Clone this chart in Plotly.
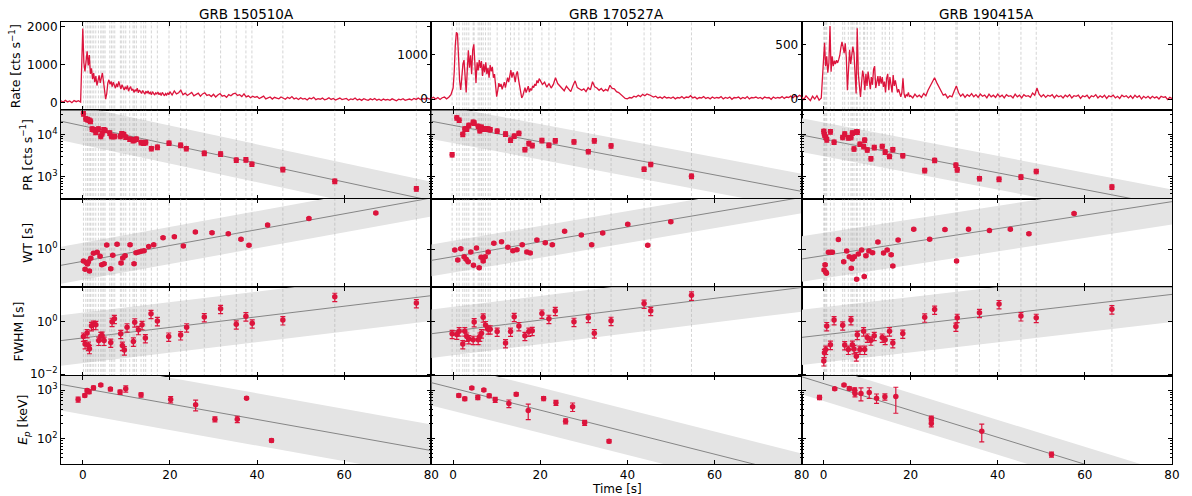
import numpy as np
import plotly.graph_objects as go
from plotly.subplots import make_subplots

# ============================ DATA ============================
GRB_NAMES = ["GRB 150510A", "GRB 170527A", "GRB 190415A"]

# ---- light curves (cts/s): pre-trigger bins (0.5 s from -5 s), early bins (0.25 s from 0 s), late bins (0.5 s from 20 s)
LC1_PRE = [50, 10, 60, 20, 45, 0, 55, 25, 50, 15]
LC1_EARLY = [1950, 1050, 820, 1180, 1350, 980, 1250, 760, 900, 620,
             780, 540, 700, 450, 610, 720, 520, 680, 780, 560,
             330, 90, 240, 520, 600, 480, 560, 420, 540, 460,
             380, 500, 410, 560, 440, 360, 470, 390, 330, 420,
             350, 450, 300, 380, 410, 320, 360, 270, 340, 300,
             380, 260, 330, 290, 240, 320, 280, 220, 300, 250,
             310, 230, 270, 210, 290, 240, 200, 260, 230, 280,
             210, 250, 190, 270, 220, 180, 240, 200, 260, 210]
LC1_LATE = [290, 200, 310, 230, 260, 330, 210, 250, 190, 240,
            270, 180, 220, 250, 170, 230, 260, 190, 210, 160,
            220, 150, 200, 240, 170, 190, 140, 210, 180, 230,
            250, 190, 210, 160, 230, 150, 180, 130, 170, 140,
            160, 110, 140, 170, 100, 130, 150, 95, 140, 120,
            100, 150, 120, 90, 140, 110, 160, 100, 125, 85,
            130, 95, 110, 70, 120, 100, 140, 80, 105, 90,
            120, 75, 95, 130, 85, 110, 70, 100, 120, 80,
            90, 110, 65, 100, 80, 120, 70, 95, 60, 105,
            80, 60, 100, 75, 110, 65, 90, 55, 95, 70,
            85, 60, 100, 70, 50, 90, 75, 105, 60, 80,
            95, 70, 110, 85, 120, 80, 105, 90, 125, 95,
            110]

LC2_PRE = [20, 45, 5, 40, -5, 35, 50, 10, 45, 100]
LC2_EARLY = [250, 600, 1200, 1490, 1450, 900, 400, 210, 500, 780,
             870, 430, 150, 650, 1090, 700, 980, 560, 1100, 1220,
             650, 360, 820, 640, 870, 700, 850, 520, 780, 600,
             820, 560, 700, 480, 760, 620, 720, 480, 560, 300,
             60, 200, 360, 280, 340, 220, 300, 380, 260, 420,
             480, 380, 560, 650, 480, 600, 520, 380, 560, 620,
             450, 300, 120, 30, 80, 180, 260, 150, 220, 290,
             160, 240, 200, 300, 260, 340, 300, 420, 360, 460]
LC2_LATE = [420, 330, 380, 270, 350, 250, 330, 480, 350, 300,
            250, 190, 290, 220, 170, 300, 410, 260, 230, 200,
            230, 170, 260, 210, 390, 280, 250, 200, 240, 180,
            220, 190, 310, 240, 230, 170, 150, 100, 60, 20,
            10, 40, 30, 70, 50, 90, 60, 110, 80, 120,
            100, 80, 50, 70, 30, 50, 20, 60, 30, 40,
            20, 50, 10, 40, 30, 60, 20, 50, 40, 80,
            30, 50, 10, 40, 30, 60, 20, 40, 10, 50,
            20, 40, 30, 60, 10, 40, 20, 50, 0, 40,
            30, 50, 10, 40, 20, 60, 10, 40, 30, 50,
            20, 40, 10, 50, 30, 40, 0, 50, 20, 40,
            30, 60, 20, 50, 40, 70, 30, 80, 50, 90,
            60]

LC3_PRE = [20, -5, 30, 5, -15, 25, 0, 30, -10, 10]
LC3_EARLY = [380, 515, 300, 390, 240, 330, 667, 250, 390, 300,
             350, 320, 355, 330, 360, 400, 470, 523, 480, 420,
             510, 380, 80, 300, 450, 320, 400, 480, 420, 220,
             50, 646, 235, 120, 20, 150, 260, 200, 80, 230,
             120, 250, 160, 90, 200, 130, 270, 300, 100, 160,
             210, 120, 210, 140, 200, 110, 160, 60, 190, 230,
             80, 200, 140, 60, 220, 120, 170, 120, 60, 90,
             40, 20, 60, 190, 50, 10, 40, 30, 60, 20]
LC3_LATE = [30, 10, 45, 20, 35, 15, 50, 30, 80, 120,
            160, 195, 150, 110, 70, 35, 45, 10, 30, 20,
            70, 120, 60, 25, 45, 15, 40, 25, 50, 20,
            40, 15, 45, 25, 35, 10, 45, 20, 35, 15,
            45, 20, 35, 10, 40, 25, 30, 10, 45, 20,
            35, 10, 40, 25, 30, 15, 55, 35, 100, 45,
            20, 40, 15, 35, 25, 40, 10, 35, 20, 30,
            10, 35, 20, 40, 10, 30, 25, 35, 5, 30,
            20, 35, 5, 30, 20, 40, 10, 30, 15, 35,
            5, 30, 20, 35, 10, 25, 5, 35, 20, 30,
            10, 30, 5, 35, 15, 30, 0, 25, 10, 25,
            5, 25, 10, 20, 0, 25, 15, 20, -5, 15,
            5]

# ---- pulse peak times (s) and peak rates (cts/s)
T1 = [0.15, 0.69, 1.07, 1.45, 1.76, 2.14, 2.52, 2.98, 3.59, 4.13, 4.43, 4.81, 5.12, 6.19,
      6.57, 6.95, 7.34, 8.63, 8.94, 9.40, 9.86, 10.77, 11.54, 11.84, 12.30, 13.37, 13.98,
      14.44, 15.74, 17.12, 19.79, 22.46, 23.76, 27.89, 31.63, 35.23, 37.44, 38.82, 45.92,
      57.84, 76.56]
PR1 = [31300, 23800, 22900, 22100, 20900, 13700, 13200, 11400, 13700, 9120, 10600, 13200,
       12700, 11000, 9120, 9120, 9120, 9120, 10600, 10200, 8800, 7870, 7310, 7590, 7870,
       6550, 6310, 6550, 4700, 5060, 6310, 5650, 4700, 3630, 3500, 2510, 2560, 2010, 1500,
       789, 526]
T2 = [-0.23, 0.84, 1.38, 2.22, 2.68, 3.14, 3.60, 4.60, 4.83, 5.75, 6.13, 6.51, 6.90, 7.43,
      8.05, 8.51, 10.11, 12.03, 13.18, 14.02, 15.10, 16.48, 17.39, 18.16, 20.38, 21.99,
      23.45, 27.74, 31.03, 32.41, 36.25, 43.83, 45.36, 54.71]
PR2 = [3370, 25100, 22100, 10200, 13700, 13700, 16700, 19800, 19000, 15800, 12500, 15000,
       13700, 13700, 13700, 13200, 12200, 10400, 7450, 9290, 10800, 4450, 6190, 5550, 7310,
       5650, 7180, 6790, 3980, 7180, 5450, 1530, 1980, 1040]
T3 = [0.08, 0.23, 0.53, 0.76, 1.60, 2.44, 4.42, 4.88, 5.71, 6.32, 6.63, 7.01, 7.54, 7.77,
      8.38, 9.22, 9.45, 10.06, 10.90, 11.66, 13.49, 14.17, 15.16, 15.92, 18.21, 23.24,
      25.52, 30.40, 30.70, 35.81, 40.30, 45.33, 48.84, 66.21]
PR3 = [12000, 10000, 8790, 7590, 11800, 6670, 8630, 10400, 8470, 8630, 11000, 4610, 11600,
       11600, 5970, 5250, 7450, 4370, 2710, 4970, 5250, 3910, 3080, 4450, 3190, 1420, 2470,
       1910, 1480, 914, 881, 1000, 1350, 577]

# ---- waiting times (s)
TW1 = [0.15, 0.53, 0.84, 1.07, 1.30, 1.53, 1.84, 2.44, 3.29, 3.97, 4.36, 4.89, 5.50, 6.42,
       6.88, 7.87, 8.79, 9.17, 9.70, 10.85, 11.77, 12.23, 12.84, 13.45, 14.06, 15.13, 16.28,
       18.42, 21.02, 23.08, 25.84, 29.66, 33.40, 36.31, 38.14, 42.42, 51.90, 67.26]
WT1 = [0.388, 0.198, 0.340, 0.305, 0.368, 0.173, 0.482, 0.722, 0.783, 0.567, 0.289, 0.313,
       1.42, 0.209, 0.614, 1.49, 0.330, 0.495, 0.598, 1.45, 0.313, 0.762, 0.804, 0.849,
       0.895, 1.24, 1.45, 2.56, 2.77, 1.31, 4.05, 3.83, 3.53, 2.24, 1.38, 7.12, 11.9, 18.8]
TW2 = [0.38, 1.07, 1.76, 2.53, 2.99, 3.45, 4.06, 4.67, 5.36, 5.98, 6.44, 6.90, 7.36, 8.05,
       9.35, 11.11, 12.57, 13.72, 14.64, 15.86, 16.93, 17.70, 19.23, 21.15, 22.76, 25.59,
       29.43, 31.80, 34.33, 40.08, 44.67, 49.96]
WT2 = [0.944, 0.422, 1.05, 0.551, 0.445, 0.368, 0.804, 0.274, 1.11, 0.227, 0.522, 0.388,
       0.551, 0.804, 1.62, 1.85, 1.17, 0.895, 0.970, 1.45, 0.804, 0.741, 2.12, 1.71, 1.45,
       4.27, 3.18, 1.45, 3.73, 7.52, 1.38, 9.31]
TW3 = [0.38, 0.15, 0.53, 0.69, 1.14, 1.68, 2.06, 3.43, 4.65, 5.33, 5.94, 6.40, 6.63, 7.09,
       7.62, 8.00, 8.76, 9.37, 9.75, 10.44, 11.28, 12.50, 13.79, 14.63, 15.54, 15.92, 17.14,
       20.72, 24.38, 27.89, 30.55, 33.30, 38.10, 42.90, 47.16, 57.52]
WT3 = [0.289, 0.188, 0.160, 0.144, 0.783, 0.783, 0.783, 2.18, 0.368, 0.871, 0.551, 0.215,
       0.457, 0.551, 0.0883, 0.684, 0.944, 0.110, 0.598, 0.871, 0.762, 1.80, 0.741, 0.944,
       0.649, 0.259, 2.12, 5.02, 2.24, 4.89, 0.388, 5.02, 4.51, 5.02, 3.53, 17.8]

# ---- pulse widths FWHM (s)
TF1 = [0.15, 0.53, 0.99, 1.30, 1.53, 1.99, 2.44, 2.98, 3.67, 4.13, 4.43, 4.89, 6.42, 6.72,
       7.26, 8.71, 9.09, 9.55, 10.16, 11.61, 11.92, 12.76, 13.60, 14.36, 15.66, 17.12, 19.72,
       22.46, 23.84, 27.89, 31.63, 35.23, 37.44, 38.89, 45.92, 57.84, 76.56]
FWHM1 = [0.275, 0.141, 0.372, 0.123, 0.093, 0.692, 0.776, 0.759, 0.191, 0.288, 0.295, 0.191,
         0.162, 1.0, 1.29, 0.347, 0.123, 0.083, 0.617, 0.178, 0.955, 0.490, 0.759, 0.240,
         2.0, 1.07, 0.275, 0.309, 0.617, 1.51, 3.09, 0.794, 1.62, 0.871, 1.15, 8.91, 5.13]
FWHM2 = [0.346, 0.327, 0.436, 0.142, 0.436, 0.275, 0.219, 0.207, 0.975, 0.207, 0.275, 0.366,
         1.46, 0.752, 0.518, 0.518, 0.424, 0.155, 0.424, 1.54, 0.690, 0.291, 0.424, 0.45,
         2.06, 1.30, 2.59, 1.0, 1.42, 0.366, 1.09, 4.88, 2.59, 10.0]
FWHM3 = [0.0318, 0.0653, 0.0871, 0.690, 0.134, 1.16, 0.731, 0.130, 0.0871, 1.16, 0.134,
         0.0923, 0.0490, 0.318, 0.0871, 0.436, 0.0871, 0.252, 0.195, 0.291, 0.252, 0.207,
         0.436, 0.155, 0.356, 1.46, 2.90, 0.652, 1.42, 2.18, 4.73, 1.63, 1.42, 2.99]

# ---- peak energies (keV) and their relative errors
TE1 = [-1.07, 0.46, 0.99, 1.45, 2.45, 4.13, 6.34, 8.56, 9.86, 13.37, 20.17, 25.90, 30.33,
       35.46, 37.59, 43.32]
EP1 = [641, 776, 985, 923, 1117, 1270, 1049, 910, 1066, 800, 641, 497, 251, 251, 682, 91]
EP1_ERR = [0.12, 0.08, 0.08, 0.08, 0.08, 0.06, 0.08, 0.10, 0.15, 0.10, 0.15, 0.25, 0.12,
           0.15, 0.06, 0.08]
TE2 = [1.30, 2.68, 4.29, 5.67, 7.05, 8.28, 9.66, 12.80, 14.48, 17.24, 20.77, 23.60, 25.82,
       27.43, 30.19, 35.79]
EP2 = [776, 662, 1100, 705, 1000, 764, 631, 530, 826, 379, 671, 547, 228, 452, 211, 88]
EP2_ERR = [0.08, 0.08, 0.06, 0.10, 0.06, 0.08, 0.12, 0.18, 0.08, 0.35, 0.10, 0.12, 0.12,
           0.20, 0.12, 0.08]
TE3 = [-0.91, 2.59, 4.72, 5.94, 7.16, 7.24, 8.61, 10.51, 12.19, 14.10, 16.61, 24.76, 24.76,
       36.34, 52.34]
EP3 = [705, 1066, 1270, 1083, 1000, 853, 853, 895, 682, 728, 739, 259, 204, 142, 47]
EP3_ERR = [0.10, 0.06, 0.05, 0.08, 0.12, 0.15, 0.30, 0.25, 0.22, 0.15, 0.55, 0.12, 0.15,
           0.40, 0.12]

# ---- exponential fits: log10(y) = intercept + slope * t, with a +/- scatter band (dex)
PR_FIT_INTERCEPT = [4.209, 4.222, 3.893]
PR_FIT_SLOPE = [-0.02214, -0.01956, -0.01989]
PR_FIT_SCATTER = [0.45, 0.42, 0.40]
WT_FIT_INTERCEPT = [-0.423, -0.26, -0.223]
WT_FIT_SLOPE = [0.02779, 0.026, 0.02367]
WT_FIT_SCATTER = [0.65, 0.56, 0.80]
FWHM_FIT_INTERCEPT = [-0.619, -0.355, -0.502]
FWHM_FIT_SLOPE = [0.0201, 0.0207, 0.01924]
FWHM_FIT_SCATTER = [0.96, 0.92, 1.05]
EP_FIT_INTERCEPT = [3.037, 3.041, 3.137]
EP_FIT_SLOPE = [-0.01607, -0.02273, -0.02781]
EP_FIT_SCATTER = [0.54, 0.47, 0.36]

# ---- axis labels / ticks
Y_TITLES = ["Rate [cts s<sup>\u22121</sup>]", "PR [cts s<sup>\u22121</sup>]", "WT [s]",
            "FWHM [s]", "<i>E</i><sub><i>p</i></sub> [keV]"]
RATE_TICKS = [[0, 1000, 2000], [0, 1000], [0, 500]]
X_TICKS = [0, 20, 40, 60, 80]

# ============================ STYLE ============================
W, H = 1192, 496
ML, MR, MT, MB = 61, 18, 22, 32
PW, PH = W - ML - MR, H - MT - MB
CRIMSON = "#dc143c"
FONT = "DejaVu Sans"
X_RANGE = [-5, 80]
RATE_RANGES = [[-204, 2122], [-247, 1718], [-104, 704]]
LOG_RANGES = [[2.482, 4.576], [-1.33, 1.77], [-2.05, 1.31], [1.474, 3.30]]
LOG_TICKS = [[1e3, 1e4], [1.0], [0.01, 1.0], [1e2, 1e3]]
LOG_TICKTEXT = [["10<sup>3</sup>", "10<sup>4</sup>"], ["10<sup>0</sup>"],
                ["10<sup>\u22122</sup>", "10<sup>0</sup>"], ["10<sup>2</sup>", "10<sup>3</sup>"]]
LOG_MINOR = [[m * 10 ** e for e in (2, 3, 4) for m in range(2, 10)], [], [],
             [m * 10 ** e for e in (1, 2, 3) for m in range(2, 10)]]

fig = make_subplots(rows=5, cols=3, horizontal_spacing=0, vertical_spacing=0)

lcs = [(LC1_PRE, LC1_EARLY, LC1_LATE), (LC2_PRE, LC2_EARLY, LC2_LATE),
       (LC3_PRE, LC3_EARLY, LC3_LATE)]
pulse_t = [T1, T2, T3]
pr_vals = [PR1, PR2, PR3]
wt_t = [TW1, TW2, TW3]
wt_vals = [WT1, WT2, WT3]
fw_t = [TF1, T2, T3]
fw_vals = [FWHM1, FWHM2, FWHM3]
ep_t = [TE1, TE2, TE3]
ep_vals = [EP1, EP2, EP3]
ep_err = [EP1_ERR, EP2_ERR, EP3_ERR]
fits = [(PR_FIT_INTERCEPT, PR_FIT_SLOPE, PR_FIT_SCATTER),
        (WT_FIT_INTERCEPT, WT_FIT_SLOPE, WT_FIT_SCATTER),
        (FWHM_FIT_INTERCEPT, FWHM_FIT_SLOPE, FWHM_FIT_SCATTER),
        (EP_FIT_INTERCEPT, EP_FIT_SLOPE, EP_FIT_SCATTER)]

DASH = dict(color="rgba(170,170,170,0.55)", width=0.9, dash="3px,2px")


def vlines(times, lo, hi):
    xs, ys = [], []
    for t in times:
        xs += [t, t, None]
        ys += [lo, hi, None]
    return xs, ys


for c in range(3):
    col = c + 1
    # ---------------- row 1: light curve ----------------
    pre, early, late = lcs[c]
    t_lc = np.concatenate([-5 + 0.5 * np.arange(len(pre)),
                           0.25 * np.arange(len(early)),
                           20 + 0.5 * np.arange(len(late))])
    r_lc = np.array(pre + early + late, dtype=float)
    lo, hi = RATE_RANGES[c][0] - 1000, RATE_RANGES[c][1] + 1000
    xs, ys = vlines(pulse_t[c], lo, hi)
    fig.add_trace(go.Scatter(x=xs, y=ys, mode="lines", line=DASH, hoverinfo="skip"),
                  row=1, col=col)
    fig.add_trace(go.Scatter(x=t_lc, y=r_lc, mode="lines",
                             line=dict(color=CRIMSON, width=1.3)), row=1, col=col)

    # ---------------- rows 2-5 ----------------
    series = [(pulse_t[c], pr_vals[c], dict(type="percent", value=12)),
              (wt_t[c], wt_vals[c], dict(type="percent", value=8)),
              (fw_t[c], fw_vals[c], dict(type="percent", value=35)),
              (ep_t[c], ep_vals[c],
               dict(type="data", array=list(np.array(ep_vals[c]) * np.array(ep_err[c]))))]
    for k in range(4):
        row = k + 2
        a, b, s = fits[k][0][c], fits[k][1][c], fits[k][2][c]
        tb = np.array(X_RANGE, dtype=float)
        center = a + b * tb
        band_x = list(tb) + list(tb[::-1])
        band_y = list(10 ** (center + s)) + list(10 ** (center - s)[::-1])
        fig.add_trace(go.Scatter(x=band_x, y=band_y, fill="toself", mode="lines",
                                 line=dict(width=0), fillcolor="#e4e4e4",
                                 hoverinfo="skip"), row=row, col=col)
        fig.add_trace(go.Scatter(x=tb, y=10 ** center, mode="lines",
                                 line=dict(color="#858585", width=1)), row=row, col=col)
        if k < 3:
            r0, r1 = LOG_RANGES[k]
            xs, ys = vlines(pulse_t[c], 10 ** (r0 - 1), 10 ** (r1 + 1))
            fig.add_trace(go.Scatter(x=xs, y=ys, mode="lines", line=DASH, hoverinfo="skip"),
                          row=row, col=col)
        tt, vv, err = series[k]
        err.update(color=CRIMSON, thickness=1.2, width=2.5)
        fig.add_trace(go.Scatter(x=tt, y=vv, mode="markers",
                                 marker=dict(color=CRIMSON, size=5.5),
                                 error_y=err), row=row, col=col)

# ============================ AXES ============================
AX = dict(showline=True, linecolor="black", linewidth=1.1, mirror="allticks",
          ticks="inside", ticklen=4, tickwidth=1, tickcolor="black",
          showgrid=False, zeroline=False, tickfont=dict(family=FONT, size=12, color="black"))
for r in range(1, 6):
    for c in range(1, 4):
        fig.update_xaxes(row=r, col=c, range=X_RANGE, tickmode="array", tickvals=X_TICKS,
                         showticklabels=(r == 5), **AX)
        if r == 1:
            fig.update_yaxes(row=r, col=c, range=RATE_RANGES[c - 1], tickmode="array",
                             tickvals=RATE_TICKS[c - 1], showticklabels=True, **AX)
        else:
            k = r - 2
            kw = dict(type="log", range=LOG_RANGES[k], tickmode="array",
                      tickvals=LOG_TICKS[k], ticktext=LOG_TICKTEXT[k],
                      showticklabels=(c == 1), **AX)
            if LOG_MINOR[k]:
                kw["minor"] = dict(ticks="inside", ticklen=2, tickcolor="black",
                                   tickmode="array", tickvals=LOG_MINOR[k])
            fig.update_yaxes(row=r, col=c, **kw)

# ============================ ANNOTATIONS ============================


def px_x(px):
    return (px - ML) / PW


def px_y(py):
    return (H - MB - py) / PH


annotations = []
for c, name in enumerate(GRB_NAMES):
    annotations.append(dict(text=name, x=(c + 0.5) / 3, y=px_y(13.5), xref="paper",
                            yref="paper", showarrow=False, xanchor="center",
                            yanchor="middle", font=dict(family=FONT, size=13.5)))
ytitle_x = [15, 26, 27, 18, 24]
row_h = PH / 5
for r, (t, xp) in enumerate(zip(Y_TITLES, ytitle_x)):
    annotations.append(dict(text=t, x=px_x(xp), y=px_y(MT + row_h * (r + 0.5)),
                            xref="paper", yref="paper", showarrow=False, textangle=-90,
                            xanchor="center", yanchor="middle",
                            font=dict(family=FONT, size=12.5)))
annotations.append(dict(text="Time [s]", x=0.5, y=px_y(488.5), xref="paper", yref="paper",
                        showarrow=False, xanchor="center", yanchor="middle",
                        font=dict(family=FONT, size=12)))

fig.update_layout(width=W, height=H, margin=dict(l=ML, r=MR, t=MT, b=MB),
                  showlegend=False, plot_bgcolor="white", paper_bgcolor="white",
                  font=dict(family=FONT, size=12, color="black"),
                  annotations=annotations)

# the page body's default 8 px margin is removed so the figure fills the window exactly
fig.write_html("out.html", config={"displayModeBar": False},
               post_script="document.body.style.margin='0';document.body.style.overflow='hidden';")
